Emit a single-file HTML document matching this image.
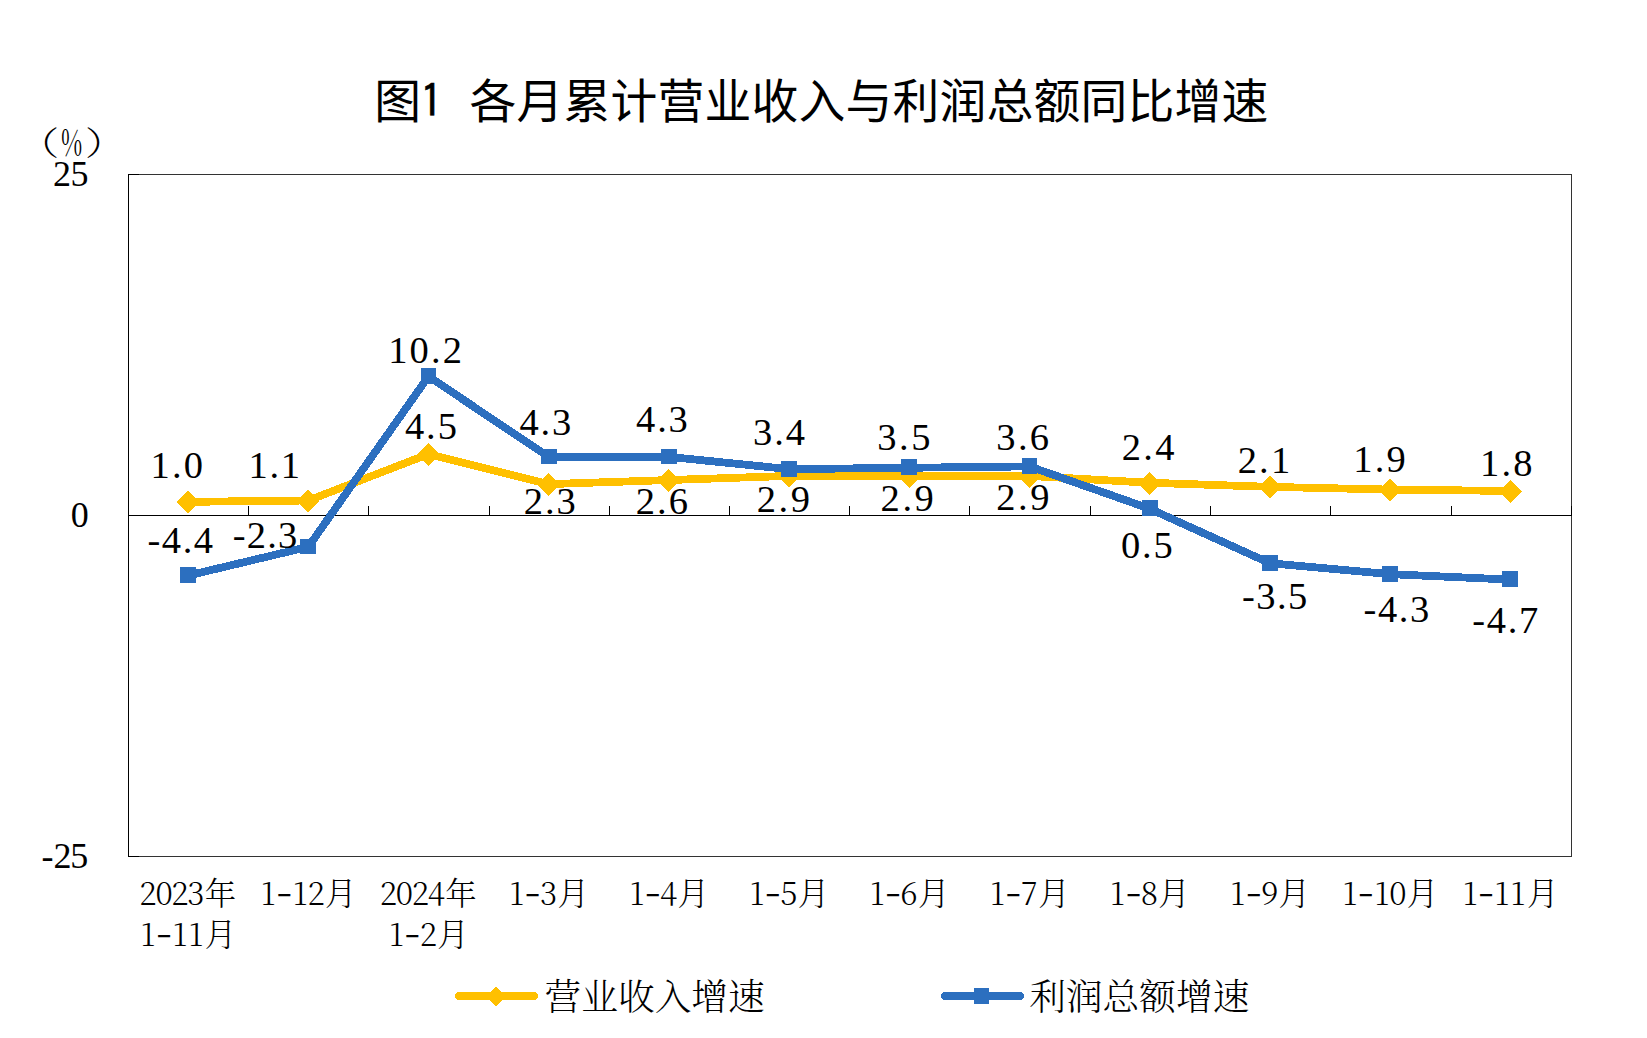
<!DOCTYPE html>
<html lang="zh-CN"><head><meta charset="utf-8"><title>图1 各月累计营业收入与利润总额同比增速</title>
<style>html,body{margin:0;padding:0;background:#fff}body{width:1647px;height:1038px;overflow:hidden}svg{display:block}
.num{font-family:"Liberation Serif","Noto Serif CJK SC",serif;font-size:38.5px;fill:#000}
.ax{font-family:"Liberation Serif","Noto Serif CJK SC",serif;font-size:36px;fill:#000}
.cat{font-family:"Noto Serif CJK SC","Liberation Serif",serif;font-size:31.4px;fill:#000;font-weight:300}
.leg{font-family:"Noto Serif CJK SC","Liberation Serif",serif;font-size:36.7px;fill:#000;font-weight:300}
.ttl{font-family:"Liberation Sans","Noto Sans CJK SC",sans-serif;font-size:46.8px;fill:#000}
</style></head><body>
<svg width="1647" height="1038" viewBox="0 0 1647 1038">
<rect x="0" y="0" width="1647" height="1038" fill="#fff"/>
<text class="ttl" xml:space="preserve" y="117.6"><tspan x="374.3">图</tspan><tspan x="420.1" y="117" style="font-family:IPAGothic,&quot;Liberation Sans&quot;,sans-serif;font-size:46px" stroke="#000" stroke-width="0.5">1</tspan><tspan x="446" y="117.6">  </tspan><tspan x="469.5" y="117.6" style="letter-spacing:0.2px">各月累计营业收入与利润总额同比增速</tspan></text>
<g shape-rendering="crispEdges" stroke-width="1" fill="none">
<rect x="128.5" y="174.5" width="1443" height="682" stroke="#333"/>
<path stroke="#000" d="M128.5 174V857 M128 515.5H1572 M128 174.5H139 M128 856.5H139"/>
<path stroke="#000" d="M248.5 506V516 M368.5 506V516 M489.5 506V516 M609.5 506V516 M729.5 506V516 M849.5 506V516 M969.5 506V516 M1090.5 506V516 M1210.5 506V516 M1330.5 506V516 M1451.5 506V516 M1571.5 506V516"/>
</g>
<text class="cat" style="font-size:33.1px"><tspan x="17.6" y="155.3" textLength="41.9" lengthAdjust="spacingAndGlyphs" style="font-weight:200">（</tspan><tspan x="60.9" y="156.4" textLength="21.3" lengthAdjust="spacingAndGlyphs" style="font-size:36.4px;font-weight:400">%</tspan><tspan x="84.8" y="154.6" textLength="41.9" lengthAdjust="spacingAndGlyphs" style="font-weight:200">）</tspan></text>
<text class="ax" x="53.1 70.4" y="185.8">25</text>
<text class="ax" x="70.8" y="526.9">0</text>
<text class="ax" x="41.5 53.4 70.2" y="867.6">-25</text>
<text class="cat" text-anchor="middle"><tspan x="148.0" y="905.3">2</tspan><tspan x="164.0" y="905.3">0</tspan><tspan x="179.9" y="905.3">2</tspan><tspan x="195.9" y="905.3">3</tspan><tspan x="220.5" y="905.3">年</tspan></text>
<text class="cat" text-anchor="middle"><tspan x="148.0" y="946.1">1</tspan><tspan x="164.0" y="948.7" style="font-size:48px;font-weight:200">-</tspan><tspan x="179.9" y="946.1">1</tspan><tspan x="195.9" y="946.1">1</tspan><tspan x="220.5" y="946.1">月</tspan></text>
<text class="cat" text-anchor="middle"><tspan x="268.2" y="905.3">1</tspan><tspan x="284.2" y="907.9" style="font-size:48px;font-weight:200">-</tspan><tspan x="300.1" y="905.3">1</tspan><tspan x="316.1" y="905.3">2</tspan><tspan x="340.7" y="905.3">月</tspan></text>
<text class="cat" text-anchor="middle"><tspan x="388.4" y="905.3">2</tspan><tspan x="404.4" y="905.3">0</tspan><tspan x="420.3" y="905.3">2</tspan><tspan x="436.3" y="905.3">4</tspan><tspan x="460.9" y="905.3">年</tspan></text>
<text class="cat" text-anchor="middle"><tspan x="396.4" y="946.1">1</tspan><tspan x="412.3" y="948.7" style="font-size:48px;font-weight:200">-</tspan><tspan x="428.3" y="946.1">2</tspan><tspan x="452.9" y="946.1">月</tspan></text>
<text class="cat" text-anchor="middle"><tspan x="516.6" y="905.3">1</tspan><tspan x="532.5" y="907.9" style="font-size:48px;font-weight:200">-</tspan><tspan x="548.5" y="905.3">3</tspan><tspan x="573.1" y="905.3">月</tspan></text>
<text class="cat" text-anchor="middle"><tspan x="636.8" y="905.3">1</tspan><tspan x="652.7" y="907.9" style="font-size:48px;font-weight:200">-</tspan><tspan x="668.7" y="905.3">4</tspan><tspan x="693.3" y="905.3">月</tspan></text>
<text class="cat" text-anchor="middle"><tspan x="757.0" y="905.3">1</tspan><tspan x="772.9" y="907.9" style="font-size:48px;font-weight:200">-</tspan><tspan x="788.9" y="905.3">5</tspan><tspan x="813.5" y="905.3">月</tspan></text>
<text class="cat" text-anchor="middle"><tspan x="877.1" y="905.3">1</tspan><tspan x="893.1" y="907.9" style="font-size:48px;font-weight:200">-</tspan><tspan x="909.0" y="905.3">6</tspan><tspan x="933.7" y="905.3">月</tspan></text>
<text class="cat" text-anchor="middle"><tspan x="997.3" y="905.3">1</tspan><tspan x="1013.3" y="907.9" style="font-size:48px;font-weight:200">-</tspan><tspan x="1029.2" y="905.3">7</tspan><tspan x="1053.9" y="905.3">月</tspan></text>
<text class="cat" text-anchor="middle"><tspan x="1117.5" y="905.3">1</tspan><tspan x="1133.5" y="907.9" style="font-size:48px;font-weight:200">-</tspan><tspan x="1149.4" y="905.3">8</tspan><tspan x="1174.0" y="905.3">月</tspan></text>
<text class="cat" text-anchor="middle"><tspan x="1237.7" y="905.3">1</tspan><tspan x="1253.7" y="907.9" style="font-size:48px;font-weight:200">-</tspan><tspan x="1269.6" y="905.3">9</tspan><tspan x="1294.2" y="905.3">月</tspan></text>
<text class="cat" text-anchor="middle"><tspan x="1349.9" y="905.3">1</tspan><tspan x="1365.9" y="907.9" style="font-size:48px;font-weight:200">-</tspan><tspan x="1381.8" y="905.3">1</tspan><tspan x="1397.8" y="905.3">0</tspan><tspan x="1422.4" y="905.3">月</tspan></text>
<text class="cat" text-anchor="middle"><tspan x="1470.1" y="905.3">1</tspan><tspan x="1486.1" y="907.9" style="font-size:48px;font-weight:200">-</tspan><tspan x="1502.0" y="905.3">1</tspan><tspan x="1518.0" y="905.3">1</tspan><tspan x="1542.6" y="905.3">月</tspan></text>
<g shape-rendering="crispEdges">
<polyline points="188.10,501.86 308.29,500.50 428.48,454.12 548.67,484.13 668.86,480.04 789.05,475.94 909.24,475.94 1029.43,475.94 1149.62,482.76 1269.81,486.86 1390.00,489.58 1510.19,490.95" fill="none" stroke="#FFC000" stroke-width="7.8" stroke-linejoin="round" stroke-linecap="round"/>
<polygon points="188.10,490.76 199.60,502.26 188.10,513.76 176.60,502.26" fill="#FFC000"/>
<polygon points="308.29,489.40 319.79,500.90 308.29,512.40 296.79,500.90" fill="#FFC000"/>
<polygon points="428.48,443.02 439.98,454.52 428.48,466.02 416.98,454.52" fill="#FFC000"/>
<polygon points="548.67,473.03 560.17,484.53 548.67,496.03 537.17,484.53" fill="#FFC000"/>
<polygon points="668.86,468.94 680.36,480.44 668.86,491.94 657.36,480.44" fill="#FFC000"/>
<polygon points="789.05,464.84 800.55,476.34 789.05,487.84 777.55,476.34" fill="#FFC000"/>
<polygon points="909.24,464.84 920.74,476.34 909.24,487.84 897.74,476.34" fill="#FFC000"/>
<polygon points="1029.43,464.84 1040.93,476.34 1029.43,487.84 1017.93,476.34" fill="#FFC000"/>
<polygon points="1149.62,471.66 1161.12,483.16 1149.62,494.66 1138.12,483.16" fill="#FFC000"/>
<polygon points="1269.81,475.76 1281.31,487.26 1269.81,498.76 1258.31,487.26" fill="#FFC000"/>
<polygon points="1390.00,478.48 1401.50,489.98 1390.00,501.48 1378.50,489.98" fill="#FFC000"/>
<polygon points="1510.19,479.85 1521.69,491.35 1510.19,502.85 1498.69,491.35" fill="#FFC000"/>
<polyline points="188.10,575.52 308.29,546.87 428.48,376.37 548.67,456.85 668.86,456.85 789.05,469.12 909.24,467.76 1029.43,466.40 1149.62,508.68 1269.81,563.24 1390.00,574.15 1510.19,579.61" fill="none" stroke="#2C6FBF" stroke-width="7.8" stroke-linejoin="round" stroke-linecap="round"/>
<rect x="180.20" y="567.22" width="15.8" height="15.8" fill="#2C6FBF"/>
<rect x="300.39" y="538.57" width="15.8" height="15.8" fill="#2C6FBF"/>
<rect x="420.58" y="368.07" width="15.8" height="15.8" fill="#2C6FBF"/>
<rect x="540.77" y="448.55" width="15.8" height="15.8" fill="#2C6FBF"/>
<rect x="660.96" y="448.55" width="15.8" height="15.8" fill="#2C6FBF"/>
<rect x="781.15" y="460.82" width="15.8" height="15.8" fill="#2C6FBF"/>
<rect x="901.34" y="459.46" width="15.8" height="15.8" fill="#2C6FBF"/>
<rect x="1021.53" y="458.10" width="15.8" height="15.8" fill="#2C6FBF"/>
<rect x="1141.72" y="500.38" width="15.8" height="15.8" fill="#2C6FBF"/>
<rect x="1261.91" y="554.94" width="15.8" height="15.8" fill="#2C6FBF"/>
<rect x="1382.10" y="565.85" width="15.8" height="15.8" fill="#2C6FBF"/>
<rect x="1502.29" y="571.31" width="15.8" height="15.8" fill="#2C6FBF"/>
</g>
<text class="num" x="150.5" y="478.2" style="letter-spacing:2.14px">1.0</text>
<text class="num" x="248.4" y="478.2" style="letter-spacing:1.76px">1.1</text>
<text class="num" x="404.9" y="438.8" style="letter-spacing:1.96px">4.5</text>
<text class="num" x="523.7" y="513.6" style="letter-spacing:1.94px">2.3</text>
<text class="num" x="635.8" y="513.6" style="letter-spacing:1.98px">2.6</text>
<text class="num" x="756.7" y="512.3" style="letter-spacing:2.55px">2.9</text>
<text class="num" x="880.6" y="511.1" style="letter-spacing:2.55px">2.9</text>
<text class="num" x="996.2" y="510.4" style="letter-spacing:2.55px">2.9</text>
<text class="num" x="1121.7" y="459.8" style="letter-spacing:2.30px">2.4</text>
<text class="num" x="1237.7" y="472.8" style="letter-spacing:2.16px">2.1</text>
<text class="num" x="1353.3" y="471.7" style="letter-spacing:2.21px">1.9</text>
<text class="num" x="1480.1" y="476.2" style="letter-spacing:2.13px">1.8</text>
<text class="num" x="147.5" y="553.4" style="letter-spacing:1.54px">-4.4</text>
<text class="num" x="232.7" y="547.5" style="letter-spacing:1.24px">-2.3</text>
<text class="num" x="388.3" y="362.7" style="letter-spacing:2.07px">10.2</text>
<text class="num" x="519.5" y="434.9" style="letter-spacing:1.80px">4.3</text>
<text class="num" x="636.1" y="432.4" style="letter-spacing:1.80px">4.3</text>
<text class="num" x="752.9" y="444.7" style="letter-spacing:2.05px">3.4</text>
<text class="num" x="877.2" y="449.7" style="letter-spacing:2.56px">3.5</text>
<text class="num" x="996.3" y="449.7" style="letter-spacing:2.33px">3.6</text>
<text class="num" x="1120.9" y="557.9" style="letter-spacing:1.84px">0.5</text>
<text class="num" x="1241.9" y="609.0" style="letter-spacing:1.51px">-3.5</text>
<text class="num" x="1363.4" y="621.9" style="letter-spacing:1.67px">-4.3</text>
<text class="num" x="1472.2" y="633.2" style="letter-spacing:1.74px">-4.7</text>
<line x1="458.9" y1="995.95" x2="534.1" y2="995.95" stroke="#FFC000" stroke-width="8" stroke-linecap="round" shape-rendering="crispEdges"/>
<polygon points="496,986.7 505.7,996.4 496,1006.1 486.3,996.4" fill="#FFC000" shape-rendering="crispEdges"/>
<text class="leg" x="544.6" y="1009.6">营业收入增速</text>
<line x1="944.9" y1="995.95" x2="1020.1" y2="995.95" stroke="#2C6FBF" stroke-width="8" stroke-linecap="round" shape-rendering="crispEdges"/>
<rect x="974" y="988" width="15" height="16" fill="#2C6FBF" shape-rendering="crispEdges"/>
<text class="leg" x="1029.2" y="1009.6">利润总额增速</text>
</svg></body></html>
